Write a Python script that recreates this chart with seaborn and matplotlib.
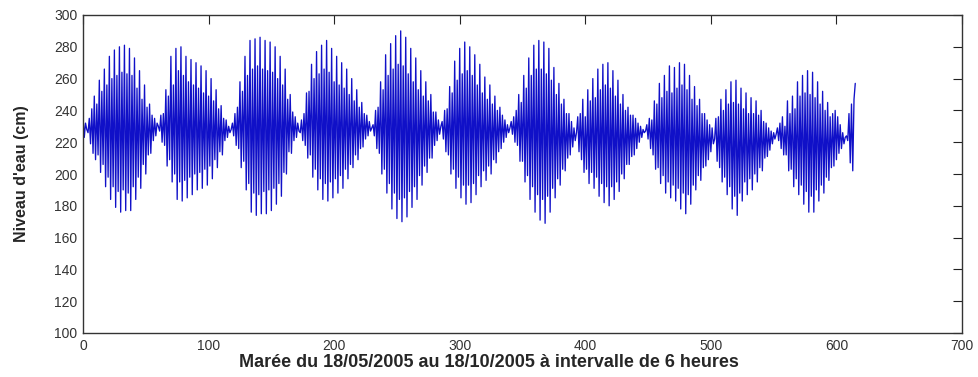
import numpy as np
import pandas as pd
import matplotlib
matplotlib.use("Agg")
import matplotlib.pyplot as plt
import seaborn as sns

# Niveau d'eau (cm), un relevé toutes les 6 heures
niveau = [
    236, 223, 232, 228, 226, 235, 219, 241, 213, 249,
    209, 244, 212, 259, 201, 252, 206, 266, 192, 256,
    198, 274, 184, 260, 192, 278, 179, 262, 189, 280,
    176, 264, 190, 281, 177, 263, 188, 279, 177, 262,
    192, 273, 184, 254, 198, 265, 191, 247, 206, 256,
    200, 242, 212, 244, 213, 237, 221, 235, 224, 232,
    230, 227, 237, 220, 238, 218, 253, 205, 249, 209,
    274, 195, 256, 200, 279, 184, 265, 195, 280, 183,
    262, 196, 274, 185, 258, 198, 272, 187, 256, 200,
    270, 190, 254, 201, 268, 191, 251, 203, 265, 193,
    249, 205, 260, 197, 246, 209, 253, 204, 241, 214,
    243, 212, 235, 221, 234, 223, 230, 226, 228, 232,
    224, 238, 218, 242, 216, 258, 204, 252, 208, 274,
    190, 262, 194, 284, 176, 266, 188, 285, 174, 268,
    187, 286, 175, 266, 189, 284, 175, 265, 190, 283,
    177, 264, 191, 280, 181, 260, 194, 274, 186, 256,
    201, 266, 200, 247, 214, 250, 213, 239, 221, 236,
    223, 232, 227, 226, 234, 221, 238, 218, 251, 210,
    252, 212, 269, 198, 260, 203, 277, 190, 263, 197,
    281, 184, 266, 194, 284, 183, 264, 195, 279, 185,
    258, 197, 274, 188, 256, 199, 270, 191, 254, 203,
    266, 197, 250, 206, 260, 204, 246, 212, 253, 209,
    242, 216, 245, 217, 238, 222, 237, 224, 233, 227,
    229, 231, 224, 240, 216, 242, 213, 258, 200, 253,
    203, 275, 188, 262, 194, 282, 178, 266, 188, 287,
    172, 269, 184, 290, 170, 268, 185, 286, 173, 263,
    189, 279, 179, 258, 192, 273, 184, 253, 199, 265,
    193, 249, 205, 258, 201, 246, 210, 250, 210, 239,
    218, 239, 221, 234, 225, 230, 233, 222, 240, 214,
    241, 212, 255, 200, 251, 203, 271, 191, 259, 198,
    279, 185, 263, 193, 283, 181, 265, 193, 280, 182,
    262, 194, 275, 187, 256, 199, 269, 192, 251, 202,
    261, 196, 247, 205, 256, 200, 244, 209, 249, 207,
    240, 214, 242, 216, 237, 220, 234, 223, 231, 226,
    229, 233, 225, 236, 220, 240, 218, 250, 208, 245,
    208, 262, 195, 254, 199, 273, 184, 262, 192, 281,
    176, 266, 187, 284, 171, 266, 184, 283, 169, 263,
    186, 279, 176, 259, 191, 267, 185, 250, 197, 257,
    193, 244, 203, 247, 202, 238, 210, 238, 212, 233,
    217, 229, 221, 226, 236, 214, 238, 209, 247, 201,
    236, 203, 253, 194, 246, 201, 260, 191, 248, 198,
    266, 186, 253, 194, 269, 182, 256, 192, 270, 180,
    254, 192, 265, 184, 249, 195, 259, 189, 244, 200,
    250, 197, 240, 206, 242, 206, 237, 211, 237, 212,
    235, 216, 232, 220, 230, 223, 228, 226, 227, 231,
    222, 235, 216, 234, 212, 246, 203, 244, 204, 257,
    194, 248, 199, 262, 188, 252, 195, 268, 185, 251,
    193, 267, 183, 254, 191, 270, 178, 256, 188, 269,
    175, 253, 187, 262, 181, 247, 193, 255, 190, 243,
    199, 247, 196, 238, 204, 238, 205, 234, 209, 231,
    214, 229, 219, 222, 235, 208, 236, 204, 247, 195,
    240, 198, 253, 187, 244, 192, 258, 178, 245, 186,
    259, 174, 244, 188, 254, 183, 241, 195, 251, 187,
    238, 197, 248, 190, 238, 200, 246, 195, 237, 204,
    240, 202, 233, 210, 232, 211, 229, 215, 227, 219,
    226, 222, 225, 229, 221, 232, 216, 236, 212, 230,
    212, 246, 202, 238, 203, 249, 192, 241, 197, 258,
    187, 249, 193, 262, 181, 251, 189, 265, 176, 250,
    186, 264, 176, 248, 190, 258, 183, 244, 193, 252,
    188, 240, 198, 245, 196, 236, 204, 238, 205, 240,
    209, 236, 213, 231, 216, 226, 219, 223, 224, 221,
    238, 207, 244, 202, 247, 257,
]

x_ticks = [0, 100, 200, 300, 400, 500, 600, 700]
y_ticks = [100, 120, 140, 160, 180, 200, 220, 240, 260, 280, 300]
x_label = "Marée du 18/05/2005 au 18/10/2005 à intervalle de 6 heures"
y_label = "Niveau d'eau (cm)"

sns.set_style("white")
plt.rcParams["font.family"] = ["Liberation Sans", "DejaVu Sans"]

df = pd.DataFrame({"pas": np.arange(len(niveau)), "niveau": niveau})

W, H = 979, 377
fig = plt.figure(figsize=(W / 100, H / 100), dpi=100)
fig.patch.set_facecolor("white")
ax = fig.add_axes([83 / W, 1 - 333 / H, (962 - 83) / W, (333 - 15) / H])

sns.lineplot(data=df, x="pas", y="niveau", color="#1010c8", lw=0.95, ax=ax)

ax.set_xlim(0, 700)
ax.set_ylim(100, 300)
ax.set_xticks(x_ticks)
ax.set_yticks(y_ticks)
ax.tick_params(direction="in", length=6.5, width=0.8, top=True, right=True,
               labelsize=10, labelcolor="#333333", color="#222222", pad=4)
for s in ax.spines.values():
    s.set_color("#333333")
    s.set_linewidth(1.0)

bold = ["Liberation Sans", "DejaVu Sans"]
ax.set_xlabel(x_label, fontweight="bold", fontsize=13, family=bold)
ax.xaxis.set_label_coords((489 - 83) / (962 - 83), -0.065)
ax.set_ylabel(y_label, fontweight="bold", fontsize=11.5, family=bold, labelpad=18)

fig.savefig("out.png", dpi=100, facecolor="white")
